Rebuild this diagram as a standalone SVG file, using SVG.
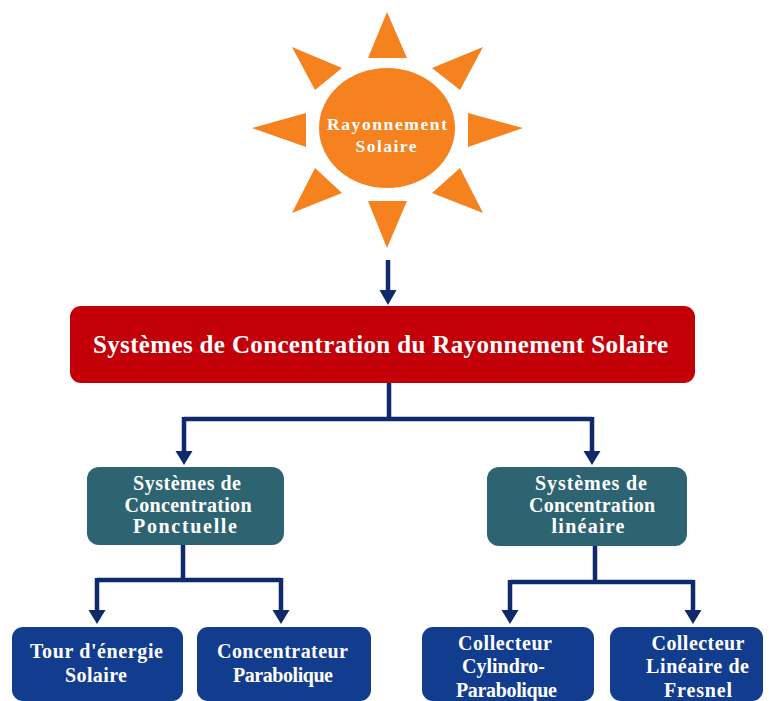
<svg xmlns="http://www.w3.org/2000/svg" width="769" height="701" viewBox="0 0 769 701">
<defs>
<style>
.t{font-family:"Liberation Serif","Times New Roman",serif;font-weight:bold;fill:#ffffff;text-anchor:middle}
.sun{fill:#F5821F}
.c{fill:none;stroke:#0E2A6C;stroke-width:4.5}
.ah{fill:#0E2A6C}
.blue{fill:#123C8E}
.teal{fill:#2E6471}
</style>
</defs>
<rect width="769" height="701" fill="#ffffff"/>
<g id="sun">
<polygon class="sun" points="387,12 368,58 407,58"/>
<polygon class="sun" points="387,248 368,201 407,201"/>
<polygon class="sun" points="252,128 306,113 306,147"/>
<polygon class="sun" points="523,128 468,113 468,147"/>
<polygon class="sun" points="292,47 342,68 315,90"/>
<polygon class="sun" points="483,47 432,68 460,90"/>
<polygon class="sun" points="292,213 315,168 342,193"/>
<polygon class="sun" points="483,213 432,193 460,168"/>
<ellipse class="sun" cx="387" cy="128" rx="68" ry="60"/>
<text class="t" x="387" y="130" font-size="17.5" textLength="120" lengthAdjust="spacing">Rayonnement</text>
<text class="t" x="386" y="152" font-size="17.5" textLength="61" lengthAdjust="spacing">Solaire</text>
</g>
<g id="connectors">
<path class="c" d="M388,260 V292"/>
<polygon class="ah" points="379.5,290 396.5,290 388,305"/>
<path class="c" d="M389,383 V419 M184,419 H592 M184,417 V452 M592,417 V452"/>
<polygon class="ah" points="175.5,451 192.5,451 184,465"/>
<polygon class="ah" points="583.5,451 600.5,451 592,465"/>
<path class="c" d="M183,545 V580 M97,580 H281 M97,578 V612 M281,578 V612"/>
<polygon class="ah" points="88.5,610 105.5,610 97,624"/>
<polygon class="ah" points="272.5,610 289.5,610 281,624"/>
<path class="c" d="M595,546 V582 M510,582 H693 M510,580 V612 M693,580 V612"/>
<polygon class="ah" points="501.5,610 518.5,610 510,624"/>
<polygon class="ah" points="684.5,610 701.5,610 693,624"/>
</g>
<g id="main">
<rect x="70" y="306" width="625" height="77" rx="11" fill="#C30008"/>
<text class="t" x="380.5" y="353" font-size="25" textLength="575" lengthAdjust="spacing">Systèmes de Concentration du Rayonnement Solaire</text>
</g>
<g id="ponctuelle">
<rect class="teal" x="87" y="467" width="197" height="78" rx="12"/>
<text class="t" x="187" y="490" font-size="20" textLength="108" lengthAdjust="spacing">Systèmes de</text>
<text class="t" x="188" y="512" font-size="20" textLength="127" lengthAdjust="spacing">Concentration</text>
<text class="t" x="185" y="533" font-size="20" textLength="104" lengthAdjust="spacing">Ponctuelle</text>
</g>
<g id="lineaire">
<rect class="teal" x="487" y="467" width="200" height="79" rx="12"/>
<text class="t" x="591" y="490" font-size="20" textLength="112" lengthAdjust="spacing">Systèmes de</text>
<text class="t" x="592" y="512" font-size="20" textLength="126" lengthAdjust="spacing">Concentration</text>
<text class="t" x="588" y="533" font-size="20" textLength="73" lengthAdjust="spacing">linéaire</text>
</g>
<g id="tour">
<rect class="blue" x="12" y="627" width="171" height="74" rx="11"/>
<text class="t" x="96.5" y="658" font-size="20" textLength="133" lengthAdjust="spacing">Tour d'énergie</text>
<text class="t" x="96" y="682" font-size="20" textLength="62" lengthAdjust="spacing">Solaire</text>
</g>
<g id="parabolique">
<rect class="blue" x="197" y="627" width="174" height="74" rx="11"/>
<text class="t" x="282.5" y="658" font-size="20" textLength="131" lengthAdjust="spacing">Concentrateur</text>
<text class="t" x="283" y="682" font-size="20" textLength="100" lengthAdjust="spacing">Parabolique</text>
</g>
<g id="cylindro">
<rect class="blue" x="422" y="627" width="172" height="74" rx="11"/>
<text class="t" x="505" y="650" font-size="20" textLength="94" lengthAdjust="spacing">Collecteur</text>
<text class="t" x="503.5" y="673" font-size="20" textLength="83" lengthAdjust="spacing">Cylindro-</text>
<text class="t" x="506.5" y="697" font-size="20" textLength="101" lengthAdjust="spacing">Parabolique</text>
</g>
<g id="fresnel">
<rect class="blue" x="610" y="627" width="153" height="74" rx="11"/>
<text class="t" x="698" y="650" font-size="20" textLength="93" lengthAdjust="spacing">Collecteur</text>
<text class="t" x="697.5" y="673" font-size="20" textLength="103" lengthAdjust="spacing">Linéaire de</text>
<text class="t" x="698" y="697" font-size="20" textLength="68" lengthAdjust="spacing">Fresnel</text>
</g>
</svg>
